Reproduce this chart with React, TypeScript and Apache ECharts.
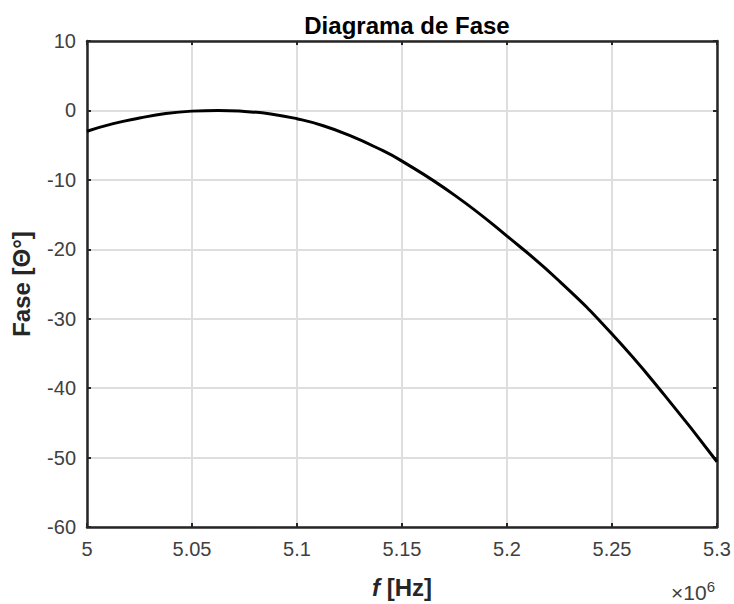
import React, { useEffect, useRef } from "react";
import * as echarts from "echarts";

const freqHz: number[] = [
  5.0e6, 5.0125e6, 5.025e6, 5.0375e6, 5.05e6, 5.0625e6, 5.075e6, 5.0875e6, 5.1e6, 5.1125e6,
  5.125e6, 5.1375e6, 5.15e6, 5.175e6, 5.2e6, 5.225e6, 5.25e6, 5.275e6, 5.3e6,
];
const phaseDeg: number[] = [
  -3.0, -1.9, -1.1, -0.45, -0.1, 0.0, -0.15, -0.5, -1.2, -2.2,
  -3.6, -5.3, -7.3, -12.2, -18.1, -24.6, -32.2, -41.0, -50.6,
];

const titleText = "Diagrama de Fase";
const yAxisTitle = "Fase [Θ°]";

const FONT = "'Liberation Sans', Arial, Helvetica, sans-serif";
const DARK = "#262626";
const LABEL = "#404040";
const GRID = "#dedede";

export default function App() {
  const ref = useRef<HTMLDivElement>(null);
  useEffect(() => {
    if (!ref.current) return;
    const chart = echarts.init(ref.current, null, { renderer: "svg" });
    const data = freqHz.map((f, i) => [f, phaseDeg[i]]);
    const fmtX = (v: number) => String(Math.round(v / 1e4) / 100);
    chart.setOption({
      animation: false,
      backgroundColor: "#ffffff",
      title: {
        text: titleText,
        left: 402,
        top: 8,
        textAlign: "center",
        textStyle: { fontFamily: FONT, fontSize: 24, fontWeight: "bold", color: "#000" },
      },
      grid: { left: 87, right: 17, top: 41, bottom: 75, containLabel: false },
      xAxis: [
        {
          type: "value",
          min: 5.0e6,
          max: 5.3e6,
          interval: 0.05e6,
          position: "bottom",
          axisLine: { show: true, onZero: false, lineStyle: { color: DARK, width: 2.5 } },
          axisTick: { show: true, inside: true, length: 4, lineStyle: { color: DARK, width: 2 } },
          splitLine: { show: true, lineStyle: { color: GRID, width: 2 } },
          axisLabel: { formatter: fmtX, fontFamily: FONT, fontSize: 20, color: LABEL, margin: 12 },
          name: "{i|f}{b| [Hz]}",
          nameLocation: "middle",
          nameGap: 48,
          nameTextStyle: {
            rich: {
              i: { fontFamily: FONT, fontSize: 24, fontWeight: "bold", fontStyle: "italic", color: DARK },
              b: { fontFamily: FONT, fontSize: 24, fontWeight: "bold", color: DARK },
            },
          },
        },
        {
          type: "value",
          min: 5.0e6,
          max: 5.3e6,
          interval: 0.05e6,
          position: "top",
          axisLine: { show: true, onZero: false, lineStyle: { color: DARK, width: 2.5 } },
          axisTick: { show: true, inside: true, length: 4, lineStyle: { color: DARK, width: 2 } },
          splitLine: { show: false },
          axisLabel: { show: false },
        },
      ],
      yAxis: [
        {
          type: "value",
          min: -60,
          max: 10,
          interval: 10,
          position: "left",
          axisLine: { show: true, onZero: false, lineStyle: { color: DARK, width: 2.5 } },
          axisTick: { show: true, inside: true, length: 4, lineStyle: { color: DARK, width: 2 } },
          splitLine: { show: true, lineStyle: { color: GRID, width: 2 } },
          axisLabel: { fontFamily: FONT, fontSize: 20, color: LABEL, margin: 11 },
          name: yAxisTitle,
          nameLocation: "middle",
          nameGap: 54,
          nameRotate: 90,
          nameTextStyle: { fontFamily: FONT, fontSize: 24, fontWeight: "bold", color: DARK },
        },
        {
          type: "value",
          min: -60,
          max: 10,
          interval: 10,
          position: "right",
          axisLine: { show: true, onZero: false, lineStyle: { color: DARK, width: 2.5 } },
          axisTick: { show: true, inside: true, length: 4, lineStyle: { color: DARK, width: 2 } },
          splitLine: { show: false },
          axisLabel: { show: false },
        },
      ],
      graphic: [
        {
          type: "text",
          right: 19,
          bottom: 1,
          style: {
            text: "×10{s|6}",
            fontFamily: FONT,
            fontSize: 21,
            fill: LABEL,
            rich: { s: { fontFamily: FONT, fontSize: 15, fill: LABEL, verticalAlign: "top", padding: [0, 0, 12, 0] } },
          },
        },
      ],
      series: [
        {
          type: "line",
          data,
          xAxisIndex: 0,
          yAxisIndex: 0,
          smooth: 0.5,
          showSymbol: false,
          lineStyle: { color: "#000000", width: 3 },
          z: 5,
        },
      ],
    });
    return () => chart.dispose();
  }, []);
  return <div ref={ref} style={{ position: "fixed", left: 0, top: 0, width: 734, height: 604 }} />;
}
